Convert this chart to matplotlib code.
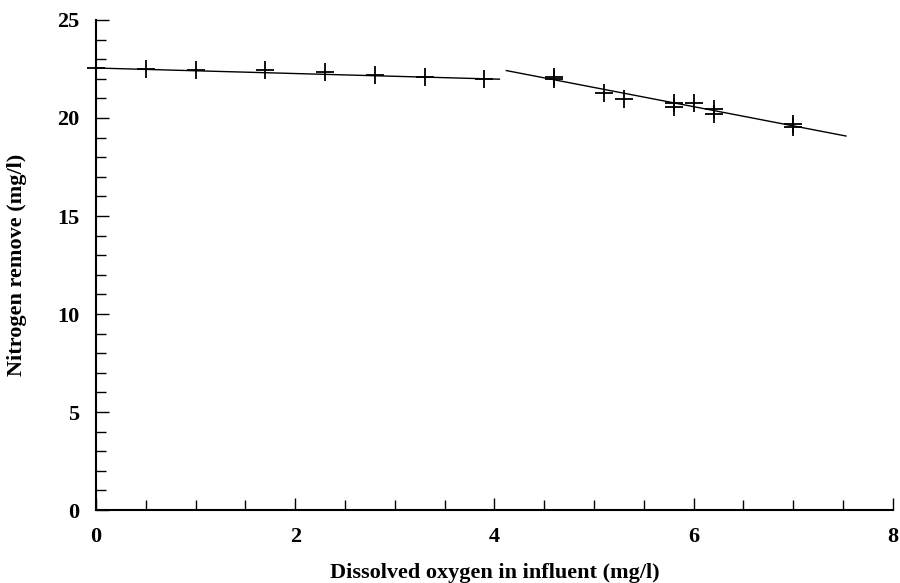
import matplotlib
matplotlib.use("Agg")
import matplotlib.pyplot as plt
from matplotlib.ticker import MultipleLocator

# Data
do_x = [0.0, 0.5, 1.0, 1.7, 2.3, 2.8, 3.3, 3.9,
        4.6, 4.6, 5.1, 5.3, 5.8, 5.8, 6.0, 6.2, 6.2, 7.0, 7.0]
n_removed = [22.55, 22.5, 22.45, 22.45, 22.35, 22.2, 22.1, 22.0,
             22.1, 22.0, 21.25, 20.97, 20.78, 20.58, 20.75, 20.47, 20.2, 19.69, 19.56]

fit1_x = [0.0, 4.05]
fit1_y = [22.55, 21.98]
fit2_x = [4.12, 7.53]
fit2_y = [22.42, 19.08]

x_ticks = [0, 2, 4, 6, 8]
y_ticks = [0, 5, 10, 15, 20, 25]

plt.rcParams['font.family'] = ['Liberation Serif', 'DejaVu Serif']

fig = plt.figure(figsize=(9, 5.83), dpi=100)
ax = fig.add_axes([0.1067, 0.1252, 0.8853, 0.8405])

ax.plot(fit1_x, fit1_y, color='black', lw=1.0)
ax.plot(fit2_x, fit2_y, color='black', lw=1.0)
ax.plot(do_x, n_removed, linestyle='none', marker='+', color='black',
        markersize=13, markeredgewidth=1.3, clip_on=False)

ax.set_xlim(0, 8)
ax.set_ylim(0, 25)
ax.set_xticks(x_ticks)
ax.set_yticks(y_ticks)
ax.xaxis.set_minor_locator(MultipleLocator(0.5))
ax.yaxis.set_minor_locator(MultipleLocator(1))
ax.tick_params(which='both', direction='in', width=1.0, labelsize=16)
ax.tick_params(which='major', length=9)
ax.tick_params(which='minor', length=7)
ax.tick_params(axis='y', which='major', pad=12)
ax.tick_params(axis='x', which='major', pad=12)
for lbl in ax.get_xticklabels() + ax.get_yticklabels():
    lbl.set_fontweight('bold')

ax.spines['top'].set_visible(False)
ax.spines['right'].set_visible(False)
ax.spines['left'].set_linewidth(1.5)
ax.spines['bottom'].set_linewidth(1.5)

ax.set_xlabel('Dissolved oxygen in influent (mg/l)', fontsize=16, fontweight='bold', labelpad=12)
ax.set_ylabel('Nitrogen remove (mg/l)', fontsize=16, fontweight='bold', labelpad=22)

fig.savefig('out.png', dpi=100)
